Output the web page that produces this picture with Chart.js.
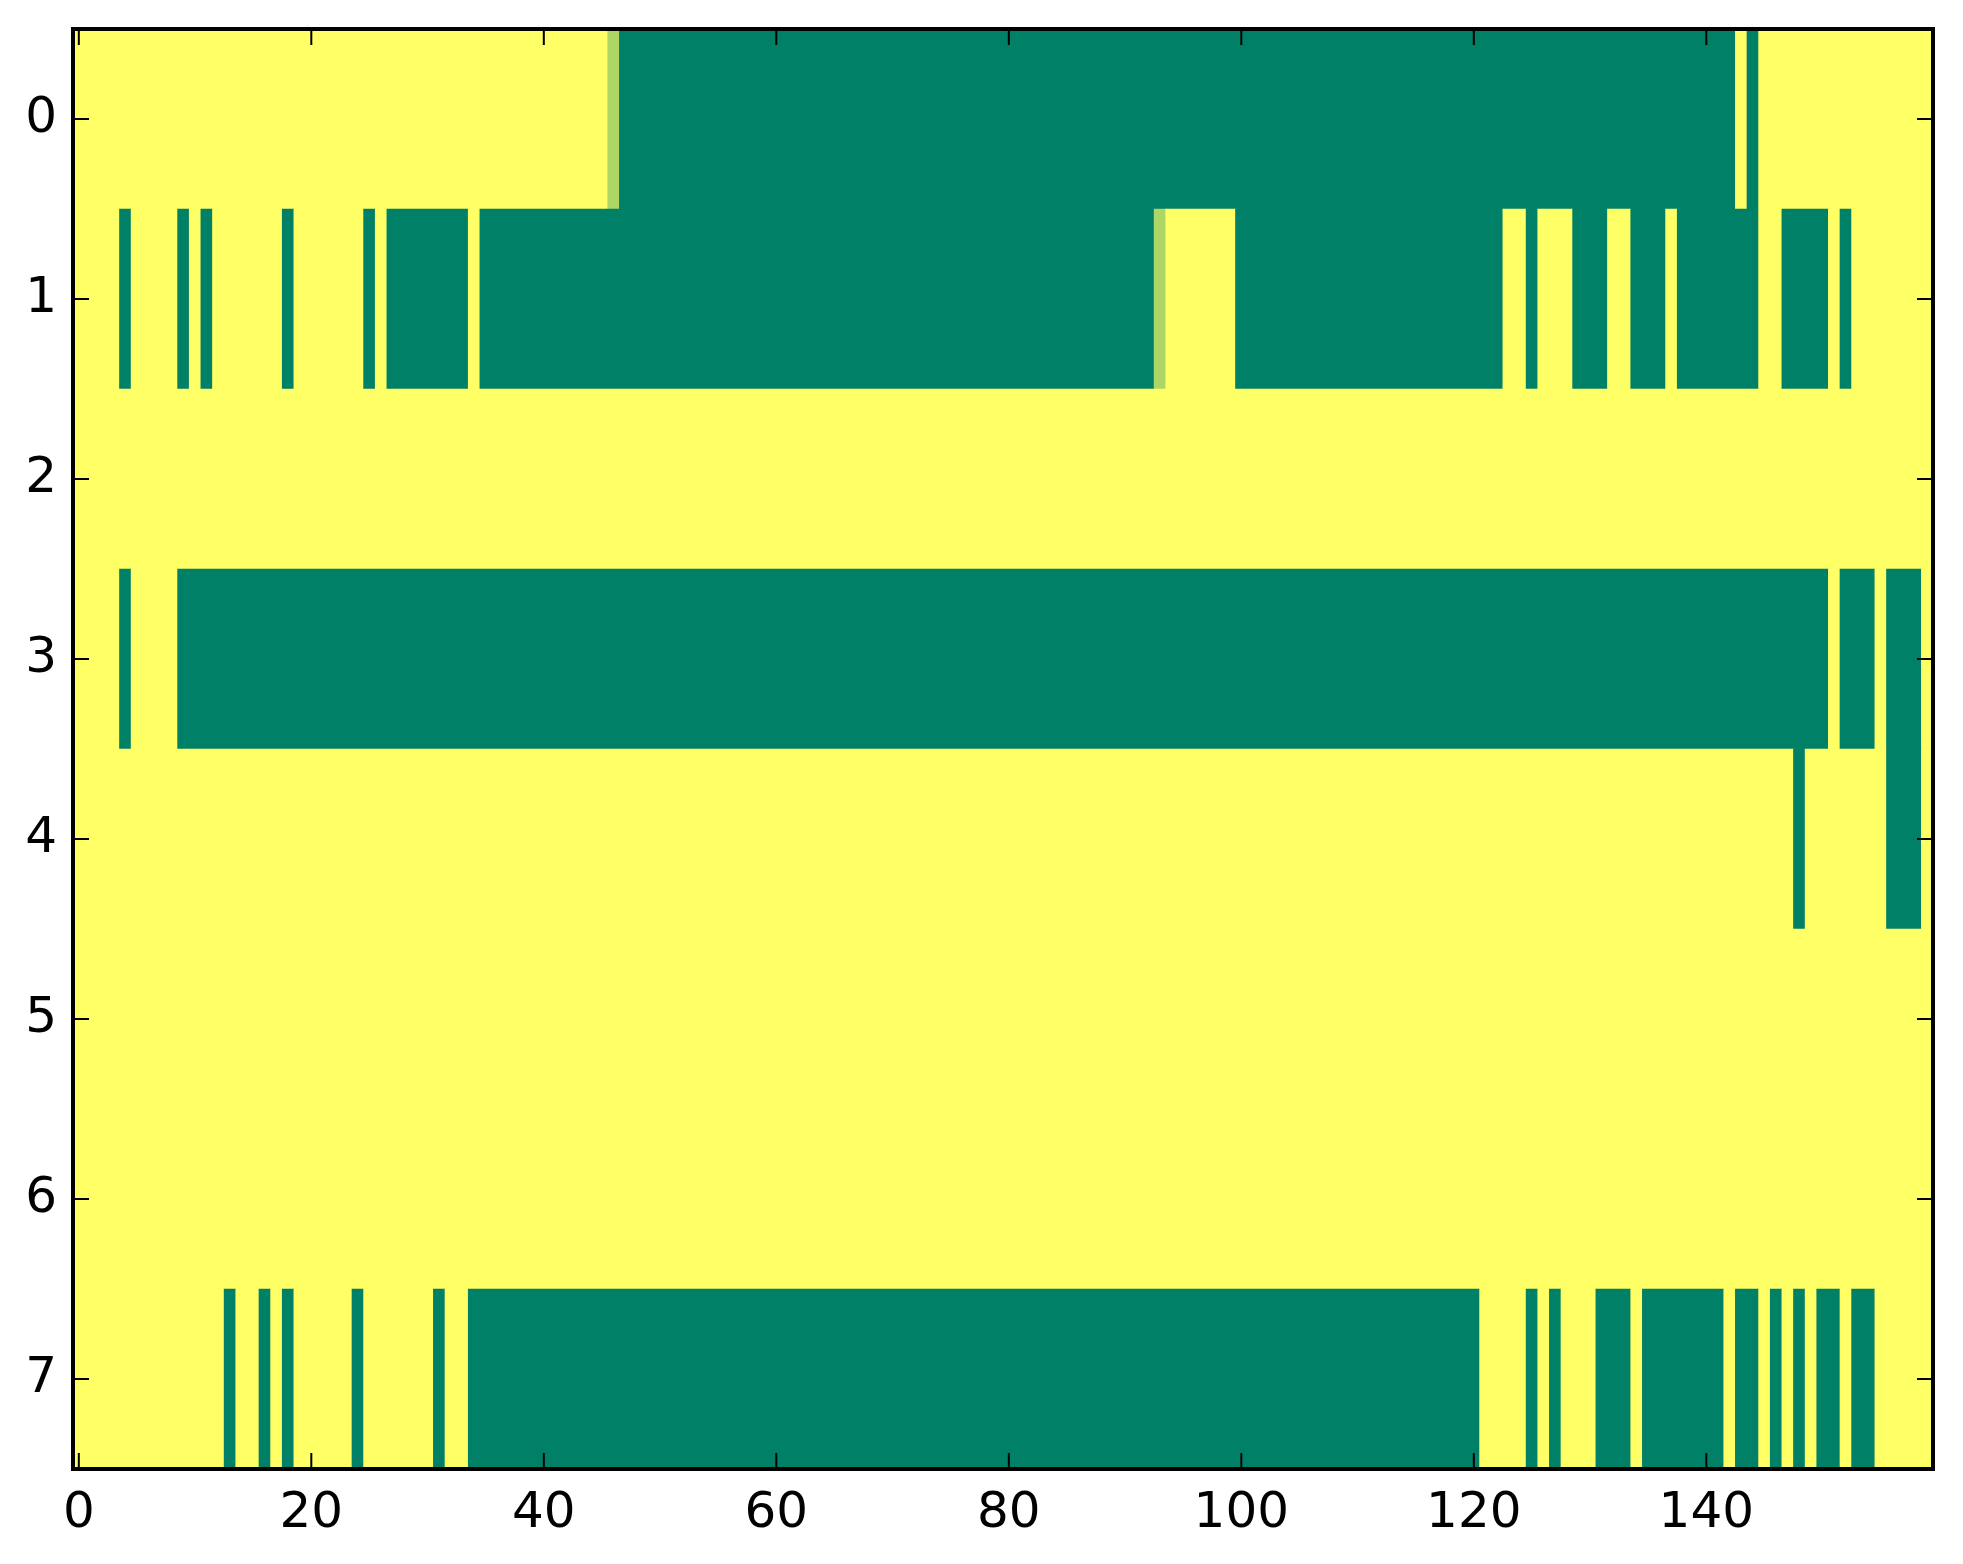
<!DOCTYPE html>
<html>
<head>
<meta charset="utf-8">
<script src="https://cdn.jsdelivr.net/npm/chart.js@4.4.1/dist/chart.umd.min.js"></script>
<style>
  html, body { margin: 0; padding: 0; background: #ffffff; }
  #wrap { width: 1963px; height: 1564px; }
</style>
</head>
<body>
<div id="wrap"><canvas id="myChart" width="1963" height="1564"></canvas></div>
<script>
// cell values, one array per row (1 = yellow, 0 = green, 0.68 = light green)
var row0 = [
  1,1,1,1,1,1,1,1,1,1,  1,1,1,1,1,1,1,1,1,1,
  1,1,1,1,1,1,1,1,1,1,  1,1,1,1,1,1,1,1,1,1,
  1,1,1,1,1,1,0.68,0,0,0,  0,0,0,0,0,0,0,0,0,0,
  0,0,0,0,0,0,0,0,0,0,  0,0,0,0,0,0,0,0,0,0,
  0,0,0,0,0,0,0,0,0,0,  0,0,0,0,0,0,0,0,0,0,
  0,0,0,0,0,0,0,0,0,0,  0,0,0,0,0,0,0,0,0,0,
  0,0,0,0,0,0,0,0,0,0,  0,0,0,0,0,0,0,0,0,0,
  0,0,0,1,0,1,1,1,1,1,  1,1,1,1,1,1,1,1,1,1
];
var row1 = [
  1,1,1,1,0,1,1,1,1,0,  1,0,1,1,1,1,1,1,0,1,
  1,1,1,1,1,0,1,0,0,0,  0,0,0,0,1,0,0,0,0,0,
  0,0,0,0,0,0,0,0,0,0,  0,0,0,0,0,0,0,0,0,0,
  0,0,0,0,0,0,0,0,0,0,  0,0,0,0,0,0,0,0,0,0,
  0,0,0,0,0,0,0,0,0,0,  0,0,0,0.68,1,1,1,1,1,1,
  0,0,0,0,0,0,0,0,0,0,  0,0,0,0,0,0,0,0,0,0,
  0,0,0,1,1,0,1,1,1,0,  0,0,1,1,0,0,0,1,0,0,
  0,0,0,0,0,1,1,0,0,0,  0,1,0,1,1,1,1,1,1,1
];
var row2 = [
  1,1,1,1,1,1,1,1,1,1,  1,1,1,1,1,1,1,1,1,1,
  1,1,1,1,1,1,1,1,1,1,  1,1,1,1,1,1,1,1,1,1,
  1,1,1,1,1,1,1,1,1,1,  1,1,1,1,1,1,1,1,1,1,
  1,1,1,1,1,1,1,1,1,1,  1,1,1,1,1,1,1,1,1,1,
  1,1,1,1,1,1,1,1,1,1,  1,1,1,1,1,1,1,1,1,1,
  1,1,1,1,1,1,1,1,1,1,  1,1,1,1,1,1,1,1,1,1,
  1,1,1,1,1,1,1,1,1,1,  1,1,1,1,1,1,1,1,1,1,
  1,1,1,1,1,1,1,1,1,1,  1,1,1,1,1,1,1,1,1,1
];
var row3 = [
  1,1,1,1,0,1,1,1,1,0,  0,0,0,0,0,0,0,0,0,0,
  0,0,0,0,0,0,0,0,0,0,  0,0,0,0,0,0,0,0,0,0,
  0,0,0,0,0,0,0,0,0,0,  0,0,0,0,0,0,0,0,0,0,
  0,0,0,0,0,0,0,0,0,0,  0,0,0,0,0,0,0,0,0,0,
  0,0,0,0,0,0,0,0,0,0,  0,0,0,0,0,0,0,0,0,0,
  0,0,0,0,0,0,0,0,0,0,  0,0,0,0,0,0,0,0,0,0,
  0,0,0,0,0,0,0,0,0,0,  0,0,0,0,0,0,0,0,0,0,
  0,0,0,0,0,0,0,0,0,0,  0,1,0,0,0,1,0,0,0,1
];
var row4 = [
  1,1,1,1,1,1,1,1,1,1,  1,1,1,1,1,1,1,1,1,1,
  1,1,1,1,1,1,1,1,1,1,  1,1,1,1,1,1,1,1,1,1,
  1,1,1,1,1,1,1,1,1,1,  1,1,1,1,1,1,1,1,1,1,
  1,1,1,1,1,1,1,1,1,1,  1,1,1,1,1,1,1,1,1,1,
  1,1,1,1,1,1,1,1,1,1,  1,1,1,1,1,1,1,1,1,1,
  1,1,1,1,1,1,1,1,1,1,  1,1,1,1,1,1,1,1,1,1,
  1,1,1,1,1,1,1,1,1,1,  1,1,1,1,1,1,1,1,1,1,
  1,1,1,1,1,1,1,1,0,1,  1,1,1,1,1,1,0,0,0,1
];
var row5 = [
  1,1,1,1,1,1,1,1,1,1,  1,1,1,1,1,1,1,1,1,1,
  1,1,1,1,1,1,1,1,1,1,  1,1,1,1,1,1,1,1,1,1,
  1,1,1,1,1,1,1,1,1,1,  1,1,1,1,1,1,1,1,1,1,
  1,1,1,1,1,1,1,1,1,1,  1,1,1,1,1,1,1,1,1,1,
  1,1,1,1,1,1,1,1,1,1,  1,1,1,1,1,1,1,1,1,1,
  1,1,1,1,1,1,1,1,1,1,  1,1,1,1,1,1,1,1,1,1,
  1,1,1,1,1,1,1,1,1,1,  1,1,1,1,1,1,1,1,1,1,
  1,1,1,1,1,1,1,1,1,1,  1,1,1,1,1,1,1,1,1,1
];
var row6 = [
  1,1,1,1,1,1,1,1,1,1,  1,1,1,1,1,1,1,1,1,1,
  1,1,1,1,1,1,1,1,1,1,  1,1,1,1,1,1,1,1,1,1,
  1,1,1,1,1,1,1,1,1,1,  1,1,1,1,1,1,1,1,1,1,
  1,1,1,1,1,1,1,1,1,1,  1,1,1,1,1,1,1,1,1,1,
  1,1,1,1,1,1,1,1,1,1,  1,1,1,1,1,1,1,1,1,1,
  1,1,1,1,1,1,1,1,1,1,  1,1,1,1,1,1,1,1,1,1,
  1,1,1,1,1,1,1,1,1,1,  1,1,1,1,1,1,1,1,1,1,
  1,1,1,1,1,1,1,1,1,1,  1,1,1,1,1,1,1,1,1,1
];
var row7 = [
  1,1,1,1,1,1,1,1,1,1,  1,1,1,0,1,1,0,1,0,1,
  1,1,1,1,0,1,1,1,1,1,  1,0,1,1,0,0,0,0,0,0,
  0,0,0,0,0,0,0,0,0,0,  0,0,0,0,0,0,0,0,0,0,
  0,0,0,0,0,0,0,0,0,0,  0,0,0,0,0,0,0,0,0,0,
  0,0,0,0,0,0,0,0,0,0,  0,0,0,0,0,0,0,0,0,0,
  0,0,0,0,0,0,0,0,0,0,  0,0,0,0,0,0,0,0,0,0,
  0,1,1,1,1,0,1,0,1,1,  1,0,0,0,1,0,0,0,0,0,
  0,0,1,0,0,1,0,1,0,1,  0,0,1,0,0,1,1,1,1,1
];
var rows = [row0, row1, row2, row3, row4, row5, row6, row7];

var xTicks = [0, 20, 40, 60, 80, 100, 120, 140];
var yTicks = [0, 1, 2, 3, 4, 5, 6, 7];

// matplotlib "summer" colormap
function summer(v) {
  var r = Math.round(255 * v);
  var g = Math.round(255 * (0.5 + v / 2));
  var b = Math.round(255 * 0.4);
  return "rgb(" + r + "," + g + "," + b + ")";
}

// merge equal neighbouring cells of a row into one floating bar,
// so that no anti-aliasing seams show inside a block
function rowRuns(row, r) {
  var out = [];
  var start = 0;
  for (var c = 1; c <= row.length; c++) {
    if (c === row.length || row[c] !== row[start]) {
      out.push({ y: r, x: [start - 0.5, c - 0.5], v: row[start] });
      start = c;
    }
  }
  return out;
}

var cells = [];
rows.forEach(function (row, r) {
  cells = cells.concat(rowRuns(row, r));
});

// paint the plot area and then frame it with inward ticks (classic matplotlib look)
var areaBg = {
  id: "areaBg",
  beforeDatasetsDraw: function (chart) {
    var a = chart.chartArea;
    chart.ctx.save();
    chart.ctx.fillStyle = summer(1);
    chart.ctx.fillRect(a.left, a.top, a.right - a.left, a.bottom - a.top);
    chart.ctx.restore();
  }
};

var frameTicks = {
  id: "frameTicks",
  afterDatasetsDraw: function (chart) {
    var ctx = chart.ctx;
    var a = chart.chartArea;
    var xs = chart.scales.x, ys = chart.scales.y;
    var len = 16;
    ctx.save();
    ctx.strokeStyle = "#000";
    ctx.lineWidth = 2;
    ctx.beginPath();
    xs.ticks.forEach(function (t) {
      var px = xs.getPixelForValue(t.value);
      ctx.moveTo(px, a.top); ctx.lineTo(px, a.top + len);
      ctx.moveTo(px, a.bottom); ctx.lineTo(px, a.bottom - len);
    });
    ys.ticks.forEach(function (t) {
      var py = ys.getPixelForValue(t.value);
      ctx.moveTo(a.left, py); ctx.lineTo(a.left + len, py);
      ctx.moveTo(a.right, py); ctx.lineTo(a.right - len, py);
    });
    ctx.stroke();
    ctx.lineWidth = 4;
    ctx.strokeRect(a.left, a.top, a.right - a.left, a.bottom - a.top);
    ctx.restore();
  }
};

function noPadding(s) {
  s.paddingTop = 0;
  s.paddingBottom = 0;
  s.paddingLeft = 0;
  s.paddingRight = 0;
}

var tickFont = { family: "'DejaVu Sans', sans-serif", size: 50 };

var chart = new Chart(document.getElementById("myChart"), {
  type: "bar",
  data: {
    datasets: [{
      label: "cells",
      data: cells,
      backgroundColor: function (c) { return summer(c.raw ? c.raw.v : 1); },
      borderWidth: 0,
      categoryPercentage: 1,
      barPercentage: 1
    }]
  },
  options: {
    indexAxis: "y",
    responsive: false,
    animation: false,
    devicePixelRatio: 1,
    layout: { padding: { top: 29, right: 30, left: 0, bottom: 0 } },
    plugins: {
      legend: { display: false },
      tooltip: { enabled: false }
    },
    scales: {
      x: {
        type: "linear",
        min: -0.5,
        max: 159.5,
        grid: { display: false, drawTicks: false },
        border: { display: false },
        afterBuildTicks: function (s) {
          s.ticks = xTicks.map(function (v) { return { value: v }; });
        },
        afterFit: function (s) { s.height = 95; noPadding(s); },
        ticks: {
          color: "#000",
          font: tickFont,
          padding: 15,
          maxRotation: 0,
          autoSkip: false,
          callback: function (v) { return String(v); }
        }
      },
      y: {
        type: "linear",
        min: -0.5,
        max: 7.5,
        reverse: true,
        offset: false,
        grid: { display: false, drawTicks: false },
        border: { display: false },
        afterBuildTicks: function (s) {
          s.ticks = yTicks.map(function (v) { return { value: v }; });
        },
        afterFit: function (s) { s.width = 73; noPadding(s); },
        ticks: {
          color: "#000",
          font: tickFont,
          padding: 16,
          autoSkip: false,
          callback: function (v) { return String(v); }
        }
      }
    }
  },
  plugins: [areaBg, frameTicks]
});
</script>
</body>
</html>
